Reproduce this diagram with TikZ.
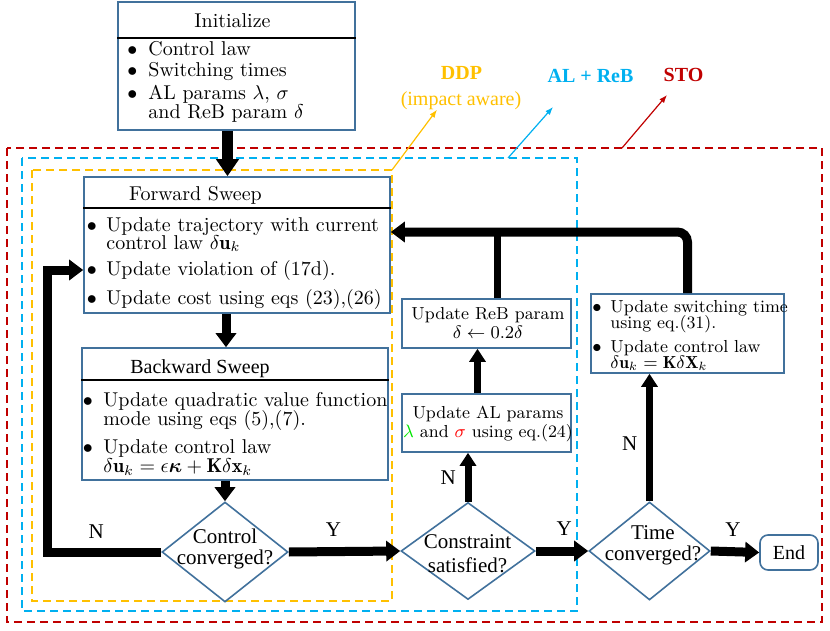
\documentclass[tikz,border=0pt]{standalone}
\usepackage{amsmath}
\usepackage{bm}
\usepackage{fontspec}
\newfontfamily\tms{Liberation Serif}
\usetikzlibrary{arrows.meta,shapes.geometric}

\definecolor{boxblue}{RGB}{65,113,156}
\definecolor{ddpcol}{RGB}{255,192,0}
\definecolor{alcol}{RGB}{0,176,240}
\definecolor{stocol}{RGB}{192,0,0}
\definecolor{lamcol}{RGB}{0,230,0}

\tikzset{
  blk/.style={draw=boxblue, line width=0.8pt, inner sep=0pt},
  cond/.style={diamond, draw=boxblue, line width=0.8pt, inner sep=0pt},
  sepline/.style={line width=1pt},
  flow/.style={line width=4.5pt, -{Triangle[length=7pt,width=10pt]}},
  bigflow/.style={line width=5.5pt, -{Triangle[length=8.5pt,width=11pt]}},
  upflow/.style={line width=3.5pt, -{Triangle[length=6.5pt,width=8pt]}},
  bar/.style={line width=3.5pt},
  region/.style={line width=0.75pt, dash pattern=on 4pt off 2.5pt},
  pointer/.style={line width=0.6pt, -{Latex[length=4pt,width=3pt]}},
  txt/.style={anchor=base west, inner sep=0pt, font=\fontsize{10}{12}\selectfont},
  smalltxt/.style={anchor=base west, inner sep=0pt, font=\fontsize{8.7}{10}\selectfont},
  midtxt/.style={anchor=base, inner sep=0pt, font=\fontsize{8.7}{10}\selectfont},
  ttl/.style={anchor=base, inner sep=0pt},
  qtxt/.style={anchor=base, inner sep=0pt, font=\tms\fontsize{10.5}{12}\selectfont},
  lbl/.style={font=\tms\fontsize{10.5}{12}\selectfont},
  tag/.style={anchor=base, inner sep=0pt, font=\tms\bfseries}
}

\begin{document}
\begin{tikzpicture}[x=0.5pt,y=-0.5pt]
\useasboundingbox (0,0) rectangle (830,631);
% Regions
\draw[region, stocol] (7,148) rectangle (822,622);
\draw[region, alcol] (22,158) rectangle (577,611);
\draw[region, ddpcol] (32,170) rectangle (392,601);
\coordinate (ddpfoot) at (392,170);
\coordinate (alfoot) at (508,158);
\coordinate (stofoot) at (622,148);
% Region tags
\node[tag, text=ddpcol] (ddp) at (461.5,80) {DDP};
\node[tag, text=ddpcol, font=\tms\mdseries] (impact) at (461,105) {(impact aware)};
\node[tag, text=alcol] (alreb) at (590.5,83) {AL + ReB};
\node[tag, text=stocol] (sto) at (683.5,82) {STO};
\coordinate (altip) at (553,107);
\coordinate (stotip) at (667,95);
\draw[pointer, ddpcol] (ddpfoot) -- ([xshift=-12pt]impact.south);
\draw[pointer, alcol] (alfoot) -- (altip);
\draw[pointer, stocol] (stofoot) -- (stotip);

% Boxes
\node[blk, minimum width=118.5pt, minimum height=64pt] (init) at (236.5,66) {};
\node[blk, minimum width=153pt, minimum height=68pt] (fwd) at (237,245) {};
\node[blk, minimum width=153pt, minimum height=66pt] (bwd) at (235,414) {};
\node[blk, minimum width=84.5pt, minimum height=24.5pt] (reb) at (486.5,323.5) {};
\node[blk, minimum width=84.5pt, minimum height=29pt] (al) at (486.5,423) {};
\node[blk, minimum width=96.5pt, minimum height=39.5pt] (sw) at (687.5,333.5) {};
\node[blk, rounded corners=4pt, minimum width=29pt, minimum height=17.5pt, font=\tms] (end) at (789,552.5) {End};
% Decisions
\node[cond, minimum width=63pt, minimum height=50pt] (ctrl) at (225,552) {};
\node[cond, minimum width=67pt, minimum height=48.5pt] (cons) at (468,551) {};
\node[cond, minimum width=60.5pt, minimum height=49pt] (time) at (649.5,551) {};

% Titles
\draw[sepline] ([yshift=-18.5pt]init.north west) -- ([yshift=-18.5pt]init.north east);
\draw[sepline] ([yshift=-16pt]fwd.north west) -- ([yshift=-16pt]fwd.north east);
\draw[sepline] ([yshift=-16.5pt]bwd.north west) -- ([yshift=-16.5pt]bwd.north east);
\node[ttl] (inittl) at (232.5,28) {Initialize};
\node[ttl] (fwdtl) at (195.5,200) {Forward Sweep};
\node[ttl, font=\tms] (bwdtl) at (200,373) {Backward Sweep};

% Initialize list
\foreach \n/\y/\t in {a/56/Control law, b/77/Switching times,
    c/100/{AL params $\lambda$, $\sigma$}, d/119/{and ReB param $\delta$}}
  \node[txt] (init\n) at (148,\y) {\t};
\foreach \n/\y in {a/56, b/77, c/100}
  \node[txt] (initdot\n) at (127,\y) {$\bullet$};
% Forward sweep list
\foreach \n/\y/\t in {a/231/Update trajectory with current,
    b/249/{control law $\delta\mathbf{u}_k$}, c/275/Update violation of (17d).,
    d/304/{Update cost using eqs (23),(26)}}
  \node[txt] (fwd\n) at (106,\y) {\t};
\foreach \n/\y in {a/231, c/275, d/304}
  \node[txt] (fwddot\n) at (86.5,\y) {$\bullet$};
% Backward sweep list
\foreach \n/\y/\t in {a/406/Update quadratic value function,
    b/425/{mode using eqs (5),(7).}, c/453/Update control law,
    d/472/{$\delta\mathbf{u}_k=\epsilon\bm{\kappa}+\mathbf{K}\delta\mathbf{x}_k$}}
  \node[txt] (bwd\n) at (103,\y) {\t};
\foreach \n/\y in {a/406, c/453}
  \node[txt] (bwddot\n) at (82.5,\y) {$\bullet$};
% Switching time list
\foreach \n/\y/\t in {a/312/Update switching time, b/328/using eq.(31).,
    c/352/Update control law, d/368/{$\delta\mathbf{u}_k=\mathbf{K}\delta\mathbf{X}_k$}}
  \node[smalltxt] (sw\n) at (610,\y) {\t};
\foreach \n/\y in {a/312, c/352}
  \node[smalltxt] (swdot\n) at (592,\y) {$\bullet$};
% AL and ReB updates
\node[midtxt] (reba) at (488,319) {Update ReB param};
\node[midtxt] (rebb) at (488,338.5) {$\delta\leftarrow0.2\delta$};
\node[midtxt] (ala) at (488,418) {Update AL params};
\node[midtxt] (alb) at (488,437) {$\textcolor{lamcol}{\lambda}$ and $\textcolor{red}{\sigma}$ using eq.(24)};
% Decision texts
\node[qtxt] (ctrla) at (225,543) {Control};
\node[qtxt] (ctrlb) at (225,564) {converged?};
\node[qtxt] (consa) at (467.5,548) {Constraint};
\node[qtxt] (consb) at (467.5,572) {satisfied?};
\node[qtxt] (timea) at (653,539) {Time};
\node[qtxt] (timeb) at (653,560) {converged?};

% Flow
\coordinate (initout) at ([xshift=-4.5pt]init.south);
\coordinate (fwdout) at ([xshift=-5.5pt]fwd.south);
\coordinate (fwdin) at ([yshift=-12.5pt]fwd.west);
\coordinate (fwdback) at ([yshift=6.5pt]fwd.east);
\coordinate (alout) at ([xshift=-4.5pt]al.north);
\coordinate (rebout) at ([xshift=5.5pt]reb.north);
\draw[bigflow] (initout) -- (initout |- fwd.north);
\draw[flow] (fwdout) -- (fwdout |- bwd.north);
\draw[flow] (bwd.south -| ctrl.north) -- (ctrl.north);
\draw[flow] (ctrl.west) -- node[lbl, above=1pt, pos=0.57] (nctrl) {N} ++(-114,0) |- (fwdin);
\draw[flow] (ctrl.east) -- node[lbl, above=2pt, pos=0.4] (yctrl) {Y} (cons.west);
\draw[upflow] (cons.north) -- node[lbl, left=1pt, pos=0.5] (ncons) {N} (cons.north |- al.south);
\draw[upflow] (alout) -- (alout |- reb.south);
\draw[bar] (rebout) -- (rebout |- fwdback);
\draw[flow, rounded corners=5pt] (sw.north) |- (fwdback);
\draw[flow] (cons.east) -- node[lbl, above=2pt, pos=0.54] (ycons) {Y} (time.west);
\draw[upflow] (time.north) -- node[lbl, left=1pt, pos=0.45] (ntime) {N} (time.north |- sw.south);
\draw[flow] (time.east) -- node[lbl, above=2pt, pos=0.46] (ytime) {Y} (end.west);
\end{tikzpicture}
\end{document}
